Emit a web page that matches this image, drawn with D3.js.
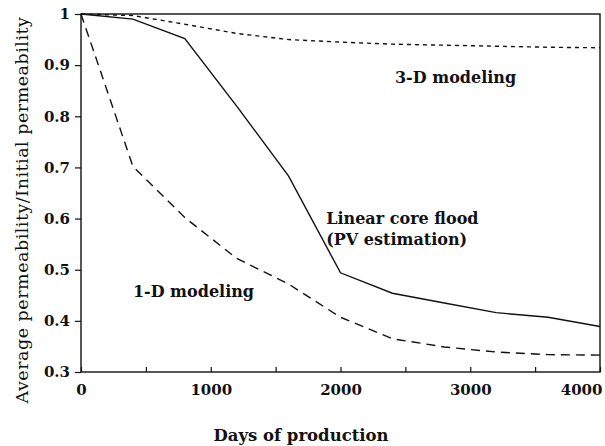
<!DOCTYPE html>
<html>
<head>
<meta charset="utf-8">
<script src="https://cdn.jsdelivr.net/npm/d3@7"></script>
<style>
  body { margin: 0; background: #fff; }
  svg text { font-family: "DejaVu Serif", serif; fill: #111; }
  .tickLabel { font-weight: bold; font-size: 15px; }
  .note { font-weight: bold; font-size: 16px; }
</style>
</head>
<body>
<div id="chart"></div>
<script>
// Data
var days = [0, 400, 800, 1200, 1600, 2000, 2400, 2800, 3200, 3600, 4000];
var coreFlood = [1.0, 0.99, 0.952, 0.82, 0.683, 0.494, 0.454, 0.435, 0.416, 0.407, 0.389];
var oneD = [1.0, 0.702, 0.602, 0.522, 0.472, 0.407, 0.365, 0.349, 0.339, 0.334, 0.333];
var threeD = [1.0, 0.997, 0.98, 0.962, 0.95, 0.945, 0.941, 0.939, 0.937, 0.935, 0.934];

var xTicks = [0, 1000, 2000, 3000, 4000];
var xMinorTicks = [500, 1500, 2500, 3500];
var yTicks = [0.3, 0.4, 0.5, 0.6, 0.7, 0.8, 0.9, 1];

var svgWidth = 605;
var svgHeight = 446;

var margin = {
  top: 14,
  right: 5,
  bottom: 74,
  left: 81
};

var width = svgWidth - margin.left - margin.right;
var height = svgHeight - margin.top - margin.bottom;

var svg = d3.select("#chart")
  .append("svg")
  .attr("width", svgWidth)
  .attr("height", svgHeight);

var chartGroup = svg.append("g")
  .attr("transform", `translate(${margin.left}, ${margin.top})`);

// Scales
var xScale = d3.scaleLinear()
  .domain([0, 4000])
  .range([0, width]);

var yScale = d3.scaleLinear()
  .domain([0.3, 1])
  .range([height, 0]);

// Frame
chartGroup.append("rect")
  .attr("width", width)
  .attr("height", height)
  .attr("fill", "none")
  .attr("stroke", "#111")
  .attr("stroke-width", 1.4);

// Axes
var bottomAxis = d3.axisBottom(xScale)
  .tickValues(xTicks.concat(xMinorTicks))
  .tickSize(-5)
  .tickFormat(d => xTicks.indexOf(d) >= 0 ? d : "");

var leftAxis = d3.axisLeft(yScale)
  .tickValues(yTicks)
  .tickSize(6)
  .tickFormat(d => d === 1 ? "1" : d3.format(".1f")(d));

var xAxisG = chartGroup.append("g")
  .attr("transform", `translate(0, ${height})`)
  .call(bottomAxis);

var yAxisG = chartGroup.append("g")
  .call(leftAxis);

[xAxisG, yAxisG].forEach(function(g) {
  g.select(".domain").remove();
  g.selectAll("line").attr("stroke", "#111").attr("stroke-width", 1.2);
  g.selectAll("text")
    .attr("class", "tickLabel")
    .attr("fill", "#111")
    .style("font-family", "DejaVu Serif, serif");
});
xAxisG.selectAll("text").attr("y", 10).attr("dy", "0.85em");
// last label sits flush with the right edge
xAxisG.selectAll("text").filter(d => d === 4000)
  .attr("text-anchor", "end")
  .attr("x", 2);
yAxisG.selectAll("text").attr("x", -11);

// Lines
var line = d3.line()
  .x(d => xScale(d[0]))
  .y(d => yScale(d[1]));

var series = [
  { values: coreFlood, dash: null },
  { values: oneD, dash: "9,6" },
  { values: threeD, dash: "4,4" }
];

series.forEach(function(s) {
  chartGroup.append("path")
    .datum(days.map((d, i) => [d, s.values[i]]))
    .attr("d", line)
    .attr("fill", "none")
    .attr("stroke", "#111")
    .attr("stroke-width", 1.4)
    .attr("stroke-dasharray", s.dash);
});

// Curve labels
chartGroup.append("text")
  .attr("class", "note")
  .attr("x", xScale(2420))
  .attr("y", yScale(0.866))
  .text("3-D modeling");

chartGroup.append("text")
  .attr("class", "note")
  .attr("x", xScale(1890))
  .attr("y", yScale(0.59))
  .text("Linear core flood");

chartGroup.append("text")
  .attr("class", "note")
  .attr("x", xScale(1890))
  .attr("y", yScale(0.549))
  .text("(PV estimation)");

chartGroup.append("text")
  .attr("class", "note")
  .attr("x", xScale(400))
  .attr("y", yScale(0.446))
  .text("1-D modeling");

// Axis titles
svg.append("text")
  .attr("transform", "translate(28, 210) rotate(-90)")
  .attr("text-anchor", "middle")
  .style("font-size", "17.5px")
  .style("letter-spacing", "0.5px")
  .text("Average permeability/Initial permeability");

svg.append("text")
  .attr("x", 301)
  .attr("y", 441)
  .attr("text-anchor", "middle")
  .style("font-weight", "bold")
  .style("font-size", "16.5px")
  .text("Days of production");
</script>
</body>
</html>
